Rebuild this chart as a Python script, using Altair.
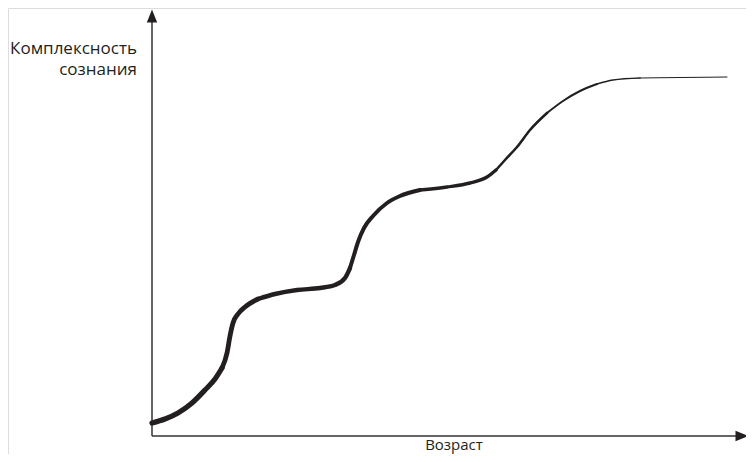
import altair as alt
import pandas as pd

# Curve: age (px right of y-axis), complexity (px above x-axis)
AGE = [0, 13, 26, 40, 53, 63, 70, 75, 78, 81, 86, 93, 106, 123, 145, 168, 183, 193, 198, 202,
       206, 212, 221, 235, 248, 268, 295, 318, 335, 344, 353, 365, 378, 395, 411, 428, 445,
       461, 488, 528, 575]
COMPLEXITY = [13, 17, 23, 33, 46, 57, 68, 83, 100, 113, 122, 129, 137, 142, 146, 148, 151, 158,
              168, 181, 194, 208, 220, 233, 240, 246, 249, 253, 259, 266, 276, 289, 306, 323, 335,
              345, 352, 356, 358, 358.5, 359]
# stroke width of the curve along its length (segment start index, end index, width)
SEG_START = [0, 6, 12, 18, 25, 29, 33, 36, 38]
SEG_END = [6, 12, 18, 25, 29, 33, 36, 38, 40]
SEG_WIDTH = [5.2, 4.8, 4.4, 4.0, 3.4, 2.6, 2.0, 1.6, 1.1]

Y_LABEL = ["Комплексность", "сознания"]
X_LABEL = "Возраст"

INK = "#231f20"

rows = []
for s, (a, b, w) in enumerate(zip(SEG_START, SEG_END, SEG_WIDTH)):
    for i in range(a, b + 1):
        rows.append({"age": AGE[i], "c": COMPLEXITY[i], "seg": s, "w": w, "order": i})
curve_df = pd.DataFrame(rows)

xs = alt.Scale(domain=[-144, 594], nice=False, zero=False)
ys = alt.Scale(domain=[-18, 428], nice=False, zero=False)

curve = alt.Chart(curve_df).mark_line(
    interpolate="monotone", color=INK, strokeCap="round", strokeJoin="round"
).encode(
    x=alt.X("age:Q", scale=xs, axis=None),
    y=alt.Y("c:Q", scale=ys, axis=None),
    detail="seg:N",
    order="order:Q",
    strokeWidth=alt.StrokeWidth("w:Q", scale=None, legend=None),
)

axes_df = pd.DataFrame({
    "x1": [0, 0], "y1": [0, 0], "x2": [0, 590], "y2": [414, 0]
})
axes = alt.Chart(axes_df).mark_rule(color="#333333", strokeWidth=1.5).encode(
    x=alt.X("x1:Q", scale=xs, axis=None),
    y=alt.Y("y1:Q", scale=ys, axis=None),
    x2="x2:Q",
    y2="y2:Q",
)

arrow_df = pd.DataFrame({"x": [0, 590], "y": [420, 0], "ang": [0, 90]})
arrows = alt.Chart(arrow_df).mark_point(
    shape="M0,-1L0.8,1L-0.8,1Z", filled=True, color=INK, opacity=1, size=169
).encode(
    x=alt.X("x:Q", scale=xs, axis=None),
    y=alt.Y("y:Q", scale=ys, axis=None),
    angle=alt.Angle("ang:Q", scale=None),
)

ylab_df = pd.DataFrame({"x": [-15, -15], "y": [382, 361], "t": Y_LABEL})
ylab = alt.Chart(ylab_df).mark_text(
    align="right", baseline="alphabetic", font="Open Sans", fontSize=17, color=INK
).encode(
    x=alt.X("x:Q", scale=xs, axis=None),
    y=alt.Y("y:Q", scale=ys, axis=None),
    text="t:N",
)

xlab_df = pd.DataFrame({"x": [302], "y": [-14], "t": [X_LABEL]})
xlab = alt.Chart(xlab_df).mark_text(
    align="center", baseline="alphabetic", font="Open Sans", fontSize=15, color=INK
).encode(
    x=alt.X("x:Q", scale=xs, axis=None),
    y=alt.Y("y:Q", scale=ys, axis=None),
    text="t:N",
)

chart = alt.layer(axes, arrows, curve, ylab, xlab).properties(
    width=738, height=446, padding=0,
    autosize=alt.AutoSizeParams(type="none"),
).configure_view(strokeWidth=0).configure(background="white")

chart.save("out.html", embed_options={"renderer": "svg", "actions": False})
